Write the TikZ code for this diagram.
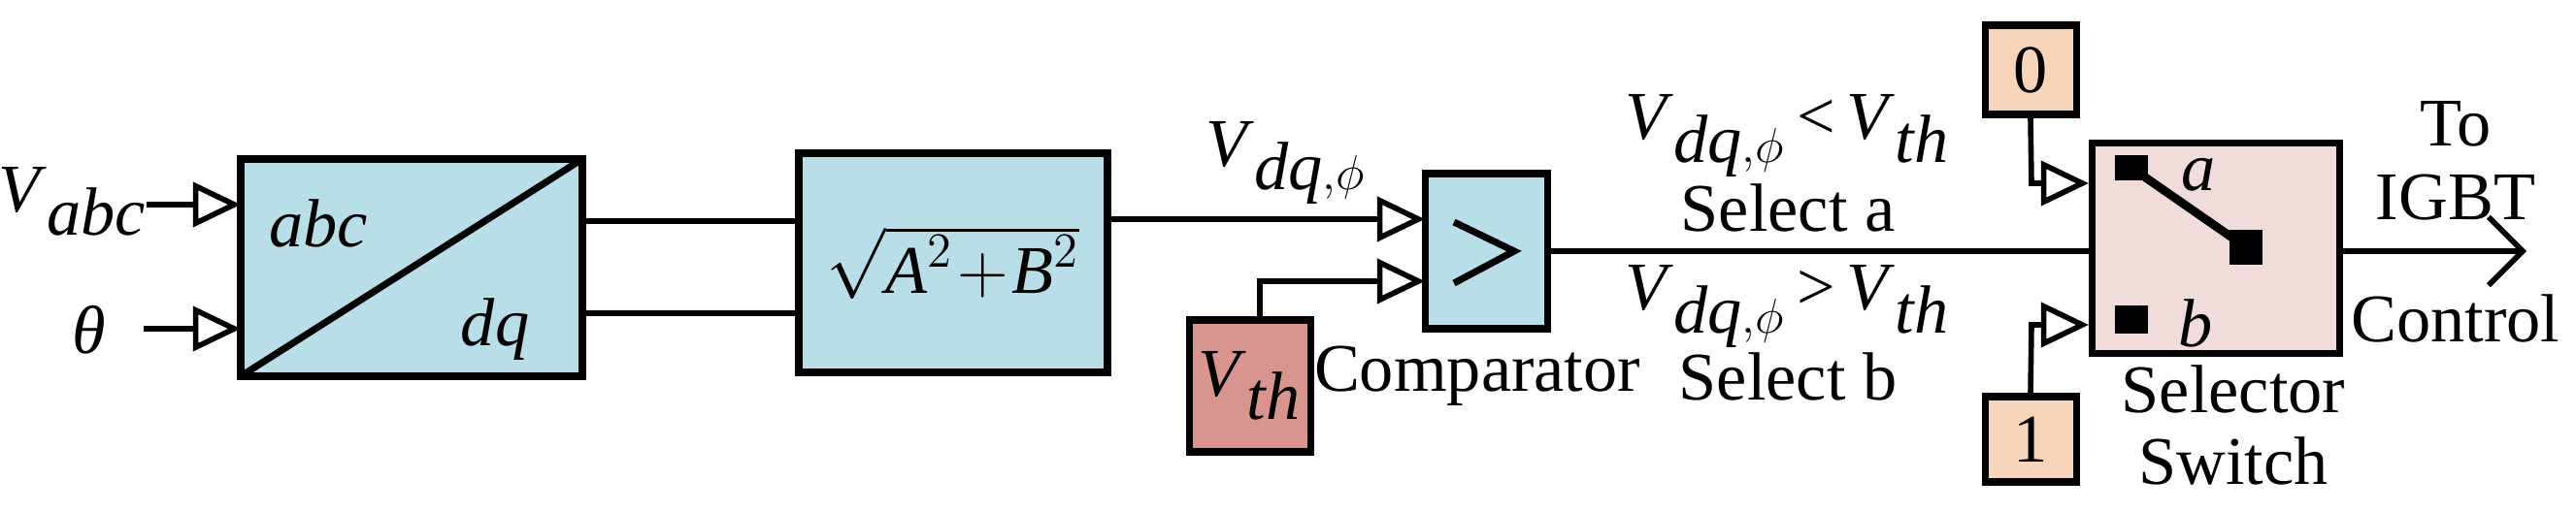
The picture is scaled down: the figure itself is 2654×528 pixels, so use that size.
\documentclass[tikz,border=0pt]{standalone}
\usepackage{fontspec}
\setmainfont{Liberation Serif}
\newfontfamily\tnr{Liberation Serif}
\usetikzlibrary{arrows.meta}
\definecolor{bl}{HTML}{B8DEE8}
\definecolor{rd}{HTML}{D89590}
\definecolor{pc}{HTML}{F8D5B8}
\definecolor{pk}{HTML}{F0DCDA}
\newcommand{\itx}[1]{\textit{#1}}
\begin{document}
\begin{tikzpicture}[x=0.01cm,y=-0.01cm,
  blk/.style={draw,line width=2pt,inner sep=0pt,font=\tnr\fontsize{20}{22}\selectfont},
  wire/.style={line width=1.6pt},
  ar/.style={wire,-{Triangle[open,length=14pt,width=13pt,line width=1.6pt]}},
  txt/.style={font=\tnr\fontsize{20}{22}\selectfont,inner sep=0pt},
  sq/.style={fill=black,inner sep=0pt}]
\useasboundingbox (0,0) rectangle (2654,528);
% abc/dq
\draw[line width=2pt,fill=bl] (248,164) rectangle (600,388);
\draw[line width=2pt] (248,388) -- (600,164);
\node[txt] (abc) at (328,230) {\itx{abc}};
\node[txt] (dq) at (510,340) {\itx{dq}};
\coordinate (pin1) at (248,211); \coordinate (pin2) at (248,339);
\coordinate (po1) at (600,228); \coordinate (po2) at (600,323);
\node[txt] (vabc) at (75,208) {\itx{V}$_{\itx{abc}}$};
\node[txt] (th) at (92,340) {\itx{θ}};
\coordinate (s1) at (151,211); \coordinate (s2) at (148,339);
\draw[ar] (s1) -- (pin1);
\draw[ar] (s2) -- (pin2);
% sqrt
\node[blk,fill=bl,minimum width=318*0.01cm,minimum height=226*0.01cm] (sq) at (982,271) {$\sqrt{\itx{A}^2\!+\!\itx{B}^2}$};
\draw[wire] (po1) -- (po1 -| sq.west);
\draw[wire] (po2) -- (po2 -| sq.west);
% comparator
\node[blk,fill=bl,minimum width=126*0.01cm,minimum height=160*0.01cm] (cmp) at (1531,259) {};
\draw[line width=2pt] (1498,229) -- (1560,259) -- (1498,292);
\coordinate (ci1) at (1468,226); \coordinate (ci2) at (1468,290);
\draw[ar] (ci1 -| sq.east) -- (ci1);
\node[txt] (vdq) at (1325,168) {\itx{V}$_{\itx{dq},\phi}$};
\node[blk,fill=rd,minimum width=125*0.01cm,minimum height=136*0.01cm] (vth) at (1288,398) {\itx{V}$_{\itx{th}}$};
\coordinate (vk) at (1298,290);
\draw[ar] (vk |- vth.north) -- (vk) -- (ci2);
\node[txt] (cl) at (1522,388) {Comparator};
% selector
\node[blk,fill=pk,minimum width=255*0.01cm,minimum height=217*0.01cm] (sel) at (2283,256) {};
\coordinate (si) at (2156,259);
\draw[wire] (cmp.east |- si) -- (si);
\node[txt] (c1) at (1842,140) {\itx{V}$_{\itx{dq},\phi}$\,<\,\itx{V}$_{\itx{th}}$};
\node[txt] (t1a) at (1842,214) {Select a};
\node[txt] (c2) at (1842,316) {\itx{V}$_{\itx{dq},\phi}$\,>\,\itx{V}$_{\itx{th}}$};
\node[txt] (t2a) at (1842,388) {Select b};
\node[blk,fill=pc,minimum width=94*0.01cm,minimum height=92*0.01cm] (z) at (2092,72) {0};
\node[blk,fill=pc,minimum width=94*0.01cm,minimum height=88*0.01cm] (o) at (2092,453) {1};
\coordinate (zk) at (2093,189); \coordinate (ok) at (2093,335);
\draw[ar] (z.south) -- (zk) -- (zk -| sel.west);
\draw[ar] (o.north) -- (ok) -- (ok -| sel.west);
\node[sq,minimum width=34*0.01cm,minimum height=26*0.01cm] (pa) at (2196,173) {};
\node[sq,minimum width=34*0.01cm,minimum height=36*0.01cm] (pp) at (2314,255) {};
\node[sq,minimum width=34*0.01cm,minimum height=29*0.01cm] (pb) at (2196,330) {};
\draw[line width=2.5pt] (pa.center) -- (pp.center);
\node[txt] (la) at (2265,180) {\itx{a}};
\node[txt] (lb) at (2262,333) {\itx{b}};
\node[txt] (ss1) at (2301,401) {Selector};
\node[txt] (ss2) at (2301,475) {Switch};
\coordinate (out) at (2603,259);
\draw[wire,-{Straight Barb[length=10pt,width=20pt,line width=1.6pt]}] (si -| sel.east) -- (out);
\node[txt] (t1) at (2530,128) {To};
\node[txt] (t2) at (2530,204) {IGBT};
\node[txt] (t3) at (2530,328) {Control};
\end{tikzpicture}
\end{document}
